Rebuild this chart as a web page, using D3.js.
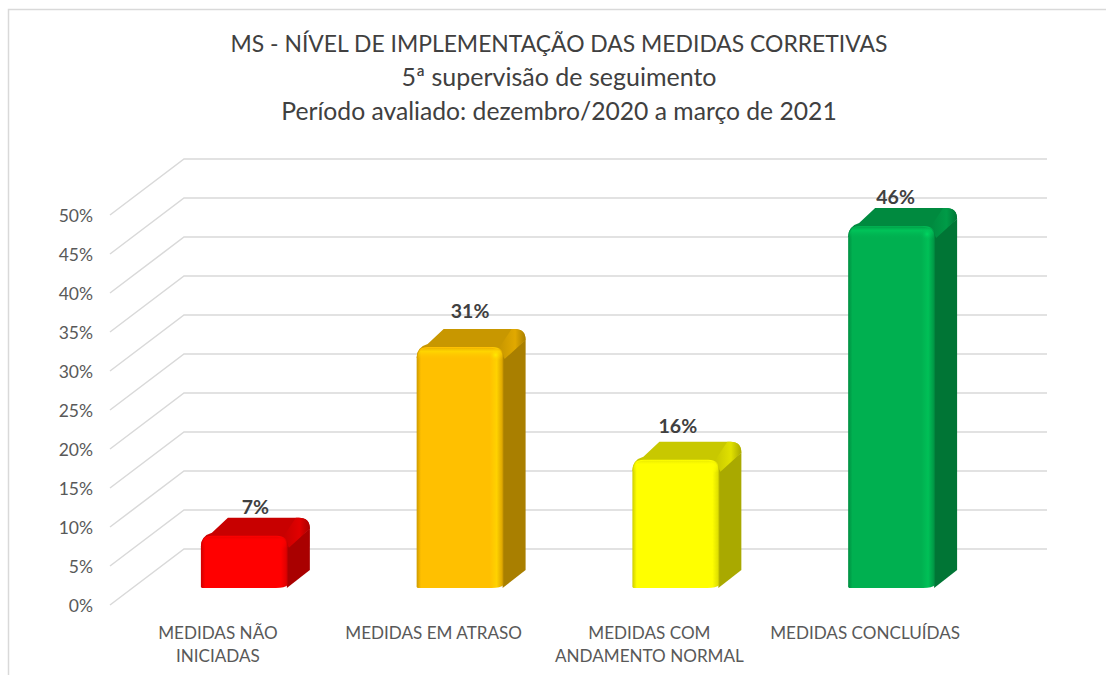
<!DOCTYPE html>
<html>
<head>
<meta charset="utf-8">
<script src="https://cdn.jsdelivr.net/npm/d3@7"></script>
<style>
html, body { margin: 0; padding: 0; background: #fff; }
svg { display: block; font-family: Lato, "Open Sans", sans-serif; }
</style>
</head>
<body>
<div id="chart"></div>
<script>
var titleLines = [
    "MS - NÍVEL DE IMPLEMENTAÇÃO DAS MEDIDAS CORRETIVAS",
    "5ª supervisão de seguimento",
    "Período avaliado: dezembro/2020 a março de 2021"
];
var categories = ["MEDIDAS NÃO INICIADAS", "MEDIDAS EM ATRASO", "MEDIDAS COM ANDAMENTO NORMAL", "MEDIDAS CONCLUÍDAS"];
var values = [6.7, 30.9, 16.45, 46.4];
var barColors = ["#ff0000", "#ffc000", "#ffff00", "#00b050"];
var yTicks = [0, 5, 10, 15, 20, 25, 30, 35, 40, 45, 50];

var width = 1106, height = 675;

// 3d look: the back wall is the front plane shifted by wall
var wall = { dx: 74, dy: -56 };
var bar3d = { dx: 22, dy: -18 };
var barInset = { dx: 26.5, dy: -17 };
// labels in the original sit a bit unevenly over the bars
var labelShiftX = [0, -1, -9, -7];
var labelLift = [4, 11, 9, 4];
// lowercase runs narrower in Lato than in the original font, so sizes differ per line
var titleSizes = [22.9, 25, 24.7];

var svg = d3.select("#chart").append("svg")
    .attr("width", width)
    .attr("height", height);

var defs = svg.append("defs");

// chart frame, only top and left are inside the picture
svg.append("path")
    .attr("d", "M8.5,675V9.5H1106")
    .attr("fill", "none")
    .attr("stroke", "#d9d9d9")
    .attr("stroke-width", 1.5);

svg.append("g")
    .selectAll("text")
    .data(titleLines)
    .enter()
    .append("text")
    .attr("x", 559)
    .attr("y", (d, i) => [52, 86, 120][i])
    .attr("text-anchor", "middle")
    .attr("font-size", (d, i) => titleSizes[i])
    .attr("fill", "#404040")
    .text(d => d);

var y = d3.scaleLinear().domain([0, 50]).range([605, 215]);
var x = d3.scaleBand().domain(categories).range([110, 973]).paddingInner(0.597).paddingOuter(0.2985);

// gridlines, running along the side wall then along the back wall
svg.append("g")
    .selectAll("path")
    .data(yTicks)
    .enter()
    .append("path")
    .attr("d", d => {
        var p = d3.path();
        p.moveTo(110, y(d));
        p.lineTo(110 + wall.dx, y(d) + wall.dy);
        p.lineTo(973 + wall.dx, y(d) + wall.dy);
        return p.toString();
    })
    .attr("fill", "none")
    .attr("stroke", "#d9d9d9")
    .attr("stroke-width", 1.5);

var yAxis = svg.append("g")
    .attr("transform", "translate(100,1)")
    .call(d3.axisLeft(y).tickValues(yTicks).tickFormat(d => d + "%").tickSize(0).tickPadding(7));
yAxis.select(".domain").remove();
yAxis.selectAll("text")
    .attr("font-family", "Lato, 'Open Sans', sans-serif")
    .attr("font-size", 17.5)
    .attr("fill", "#595959");

var xAxis = svg.append("g")
    .attr("transform", "translate(0,622)")
    .call(d3.axisBottom(x).tickSize(0).tickPadding(5));
xAxis.select(".domain").remove();
xAxis.selectAll("text")
    .attr("font-family", "Lato, 'Open Sans', sans-serif")
    .attr("font-size", 17.1)
    .attr("fill", "#595959")
    .call(wrap, 200);

function wrap(sel, maxWidth) {
    sel.each(function () {
        var text = d3.select(this);
        var words = text.text().split(" ");
        var yy = text.attr("y");
        var line = [];
        var lineNo = 0;
        text.text(null);
        var tspan = text.append("tspan").attr("x", 0).attr("y", yy).attr("dy", "0.71em");
        words.forEach(function (w) {
            line.push(w);
            tspan.text(line.join(" "));
            if (tspan.node().getComputedTextLength() > maxWidth && line.length > 1) {
                line.pop();
                tspan.text(line.join(" "));
                line = [w];
                lineNo++;
                tspan = text.append("tspan").attr("x", 0).attr("y", yy)
                    .attr("dy", (0.71 + lineNo * 1.35) + "em").text(w);
            }
        });
    });
}

function addGradient(id, vertical, stops) {
    var g = defs.append("linearGradient")
        .attr("id", id)
        .attr("x1", 0).attr("y1", 0)
        .attr("x2", vertical ? 0 : 1).attr("y2", vertical ? 1 : 0);
    stops.forEach(function (s) {
        g.append("stop").attr("offset", s[0]).attr("stop-color", s[1]).attr("stop-opacity", s[2] === undefined ? 1 : s[2]);
    });
}

var bars = svg.append("g")
    .selectAll("g")
    .data(values)
    .enter()
    .append("g");

bars.each(function (v, i) {
    var g = d3.select(this);
    var c = barColors[i];
    var x0 = x(categories[i]) + barInset.dx;
    var x1 = x0 + x.bandwidth();
    var base = y(0) + barInset.dy;
    var top = base - (y(0) - y(v));
    var r = 11;
    var dx = bar3d.dx, dy = bar3d.dy;

    var topColor = d3.rgb(c).darker(0.68);
    var sideColor = d3.rgb(c).darker(1.15);
    var lightTop = d3.rgb(c).darker(0.35);

    addGradient("front" + i, false, [
        [0, d3.rgb(c).darker(0.6)],
        [0.05, c],
        [0.84, c],
        [0.92, d3.rgb(c).brighter(0.25)],
        [0.98, d3.rgb(c).darker(0.35)],
        [1, d3.rgb(c).darker(0.9)]
    ]);
    addGradient("band" + i, true, [
        [0, d3.rgb(c).darker(0.2), 1],
        [0.3, d3.rgb(c).brighter(0.4), 0.7],
        [1, c, 0]
    ]);
    addGradient("corner" + i, false, [
        [0, topColor],
        [0.6, lightTop],
        [1, sideColor]
    ]);
    var glow = defs.append("radialGradient").attr("id", "glow" + i);
    glow.append("stop").attr("offset", 0).attr("stop-color", d3.rgb(c).brighter(0.6)).attr("stop-opacity", 0.9);
    glow.append("stop").attr("offset", 1).attr("stop-color", c).attr("stop-opacity", 0);

    // top face
    var t = d3.path();
    t.moveTo(x0, top + r);
    t.quadraticCurveTo(x0, top, x0 + r, top - 3);
    t.lineTo(x0 + dx + 5, top + dy);
    t.lineTo(x1 + dx - r, top + dy);
    t.quadraticCurveTo(x1 + dx, top + dy, x1 + dx, top + dy + r);
    t.lineTo(x1, top + r);
    t.closePath();
    g.append("path").attr("d", t.toString()).attr("fill", topColor);

    // side face
    var s = d3.path();
    s.moveTo(x1 - 1, top + r);
    s.lineTo(x1 + dx, top + dy + r);
    s.lineTo(x1 + dx, base + dy);
    s.lineTo(x1 - 1, base);
    s.closePath();
    g.append("path").attr("d", s.toString()).attr("fill", sideColor);

    // lighter bevel where top and side meet
    var b = d3.path();
    b.moveTo(x1 - 4, top);
    b.lineTo(x1 + dx - 14, top + dy);
    b.lineTo(x1 + dx - r, top + dy);
    b.quadraticCurveTo(x1 + dx, top + dy, x1 + dx, top + dy + r);
    b.lineTo(x1 + 1, top + r + 1);
    b.closePath();
    g.append("path").attr("d", b.toString()).attr("fill", "url(#corner" + i + ")");

    // front face
    var f = d3.path();
    f.moveTo(x0, base - 1);
    f.lineTo(x0, top + r);
    f.quadraticCurveTo(x0, top, x0 + r, top);
    f.lineTo(x1 - r, top);
    f.quadraticCurveTo(x1, top, x1, top + r);
    f.lineTo(x1, base - 3);
    f.quadraticCurveTo(x1 - 3, base, x1 - 12, base);
    f.lineTo(x0 + 1, base);
    f.closePath();
    g.append("path").attr("d", f.toString()).attr("fill", "url(#front" + i + ")");

    // soft strip along the top of the front face
    var st = d3.path();
    st.moveTo(x0 + 1, top + r);
    st.quadraticCurveTo(x0 + 1, top + 1, x0 + r, top + 1);
    st.lineTo(x1 - r, top + 1);
    st.quadraticCurveTo(x1 - 1, top + 1, x1 - 1, top + r);
    st.lineTo(x1 - 1, top + r + 2);
    st.lineTo(x0 + 1, top + r + 2);
    st.closePath();
    g.append("path").attr("d", st.toString()).attr("fill", "url(#band" + i + ")");

    // small shine on the front corner
    g.append("circle")
        .attr("cx", x1 - 8)
        .attr("cy", top + 8)
        .attr("r", 7)
        .attr("fill", "url(#glow" + i + ")");

    g.append("text")
        .attr("x", x0 + (x.bandwidth() + dx) / 2 + labelShiftX[i])
        .attr("y", top + dy - labelLift[i])
        .attr("text-anchor", "middle")
        .attr("font-size", 19.5)
        .attr("font-weight", "bold")
        .attr("fill", "#404040")
        .text(d3.format(".0f")(v) + "%");
});
</script>
</body>
</html>
